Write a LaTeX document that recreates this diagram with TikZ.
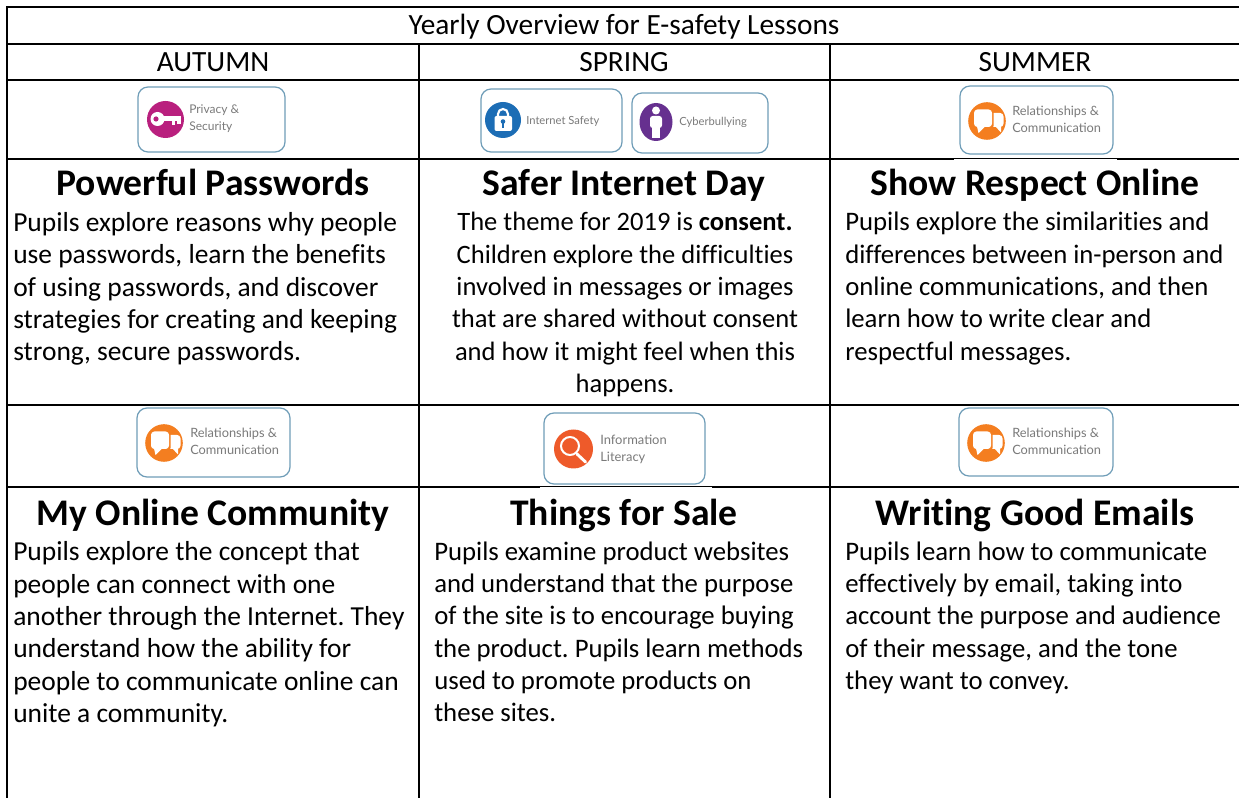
\documentclass[tikz,border=0pt]{standalone}
\usepackage{fontspec}
\setmainfont[Ligatures=NoCommon]{Carlito}
\newfontfamily\logofont{Lato}
\definecolor{logoedge}{HTML}{6F9DB8}
\definecolor{logotext}{HTML}{7A7A7A}
\definecolor{keypink}{HTML}{B9207E}
\definecolor{lockblue}{HTML}{1C6DB5}
\definecolor{personpurple}{HTML}{66308F}
\definecolor{talkorange}{HTML}{F47E20}
\definecolor{searchred}{HTML}{EE5A2A}
\tikzset{
  x=0.75pt,y=-0.75pt,
  gridline/.style={line width=1.6pt,black},
  head/.style={font=\fontsize{22}{26}\selectfont,anchor=base,inner sep=0pt},
  lessontitle/.style={font=\fontsize{28.2}{32}\bfseries\selectfont,anchor=base,inner sep=0pt},
  lessonbody/.style={font=\frenchspacing\fontsize{20.6}{24.25}\selectfont,anchor=north west,inner sep=0pt,align=left},
  lessonnarrow/.style={font=\frenchspacing\fontsize{20.05}{24.25}\selectfont,anchor=north west,inner sep=0pt,align=left},
  lessonmid/.style={font=\frenchspacing\fontsize{19.9}{24.25}\selectfont,anchor=north,inner sep=0pt,align=center},
  logobox/.style={draw=logoedge,line width=0.9pt,rounded corners=7.5pt,fill=white},
  logolabel/.style={font=\logofont\fontsize{9.6}{12.7}\selectfont,text=logotext,anchor=west,inner sep=0pt,align=left},
}
\begin{document}
\begin{tikzpicture}
\useasboundingbox (0,0) rectangle (1239,798);
\fill[white] (0,0) rectangle (1239,798);
% grid
\draw[gridline] (7,798) -- (7,7) -- (1239,7);
\foreach \yy in {44,80,159,405,487} \draw[gridline] (7,\yy) -- (1239,\yy);
\foreach \xx in {419,830} \draw[gridline] (\xx,44) -- (\xx,798);
% headers
\node[head] (title) at (624,35) {Yearly Overview for E-safety Lessons};
\node[head] (autumn) at (213,72) {AUTUMN};
\node[head] (spring) at (624,72) {SPRING};
\node[head] (summer) at (1035,72) {SUMMER};
% white margins of the logos over the rules
\fill[white] (954,158.6) rectangle (1117,159.7);
\fill[white] (540,486.6) rectangle (712,487.7);
% logo: privacy
\draw[logobox] (138,87) rectangle (285,152);
\fill[keypink] (165.5,119.5) circle (18.5);
\fill[white] (157.5,119) circle (7);
\fill[white] (160,116.5) rectangle (181,121.5);
\fill[white] (172,120) rectangle (175,125);
\fill[white] (177,120) rectangle (181,124);
\fill[keypink] (156,119) circle (2.6);
\node[logolabel,font=\logofont\fontsize{9}{12.7}\selectfont] (privacy) at (189,118.5) {Privacy \&\\Security};
% logo: internet safety
\draw[logobox] (481,89) rectangle (622,152);
\fill[lockblue] (503,120) circle (18);
\draw[white,line width=1.6pt] (498,117) -- (498,114) arc[start angle=180,end angle=360,radius=5] -- (508,117);
\fill[white,rounded corners=1.5pt] (494.5,116) rectangle (512,131);
\fill[lockblue] (503,121.5) circle (2.3);
\fill[lockblue] (502,122) rectangle (504,128);
\node[logolabel,font=\logofont\fontsize{8.4}{10}\selectfont] (internet) at (526,121) {Internet Safety};
% logo: cyberbullying
\draw[logobox] (632,93) rectangle (768,153);
\fill[personpurple] (656,122) ellipse (16.5 and 19);
\fill[white] (656,110.5) circle (4);
\fill[white,rounded corners=2pt] (650,116) rectangle (662,128);
\fill[white] (652,126) rectangle (660,138);
\node[logolabel,font=\logofont\fontsize{8.4}{10}\selectfont] (cyber) at (679,122) {Cyberbullying};
% logo: relationships
\foreach \bx/\by/\bw/\bh/\nm/\ttx/\tty in {960/86/153/68/relA/1012/119, 137/408/153/69/relB/190/441, 959/408/154/68/relC/1012/441}{
  \draw[logobox] (\bx,\by) rectangle ({\bx+\bw},{\by+\bh});
  \fill[talkorange] ({\bx+27},{\by+35}) circle (18.8);
  \fill[white,rounded corners=2.5pt] ({\bx+27},{\by+27}) rectangle ({\bx+43.5},{\by+41});
  \fill[white] ({\bx+35},{\by+40}) -- ({\bx+41},{\by+46.5}) -- ({\bx+41},{\by+40}) -- cycle;
  \fill[talkorange,rounded corners=3pt] ({\bx+12.5},{\by+22}) rectangle ({\bx+33.5},{\by+44});
  \fill[white,rounded corners=2.5pt] ({\bx+14},{\by+23.5}) rectangle ({\bx+32},{\by+41});
  \fill[white] ({\bx+17},{\by+40.5}) -- ({\bx+18.5},{\by+47}) -- ({\bx+25},{\by+40.5}) -- cycle;
  \node[logolabel] (\nm) at (\ttx,\tty) {Relationships \&\\Communication};
}
% logo: information literacy
\draw[logobox] (544,413) rectangle (705,484);
\fill[searchred] (573.5,449) circle (19.5);
\draw[white,line width=1.5pt] (570,446) circle (9);
\draw[white,line width=2.2pt,line cap=round] (577,454) -- (585.5,462);
\node[logolabel,font=\logofont\fontsize{9.7}{12.8}\selectfont] (infolit) at (600,449.5) {Information\\Literacy};
% row 1 lessons
\node[lessontitle] (t1) at (213,196) {Powerful Passwords};
\node[lessontitle] (t2) at (624,196) {Safer Internet Day};
\node[lessontitle] (t3) at (1035,196) {Show Respect Online};
\node[lessonbody] (b1) at (13,212) {Pupils explore reasons why people\\use passwords, learn the benefits\\of using passwords, and discover\\strategies for creating and keeping\\strong, secure passwords.};
\node[lessonmid] (b2) at (625,212) {The theme for 2019 is \textbf{consent.}\\Children explore the difficulties\\involved in messages or images\\that are shared without consent\\and how it might feel when this\\happens.};
\node[lessonnarrow] (b3) at (845,212) {Pupils explore the similarities and\\differences between in-person and\\online communications, and then\\learn how to write clear and\\respectful messages.};
% row 2 lessons
\node[lessontitle] (t4) at (213,525) {My Online Community};
\node[lessontitle] (t5) at (624,525) {Things for Sale};
\node[lessontitle] (t6) at (1035,525) {Writing Good Emails};
\node[lessonbody] (b4) at (13,541.5) {Pupils explore the concept that\\people can connect with one\\another through the Internet. They\\understand how the ability for\\people to communicate online can\\unite a community.};
\node[lessonnarrow] (b5) at (434,541.5) {Pupils examine product websites\\and understand that the purpose\\of the site is to encourage buying\\the product. Pupils learn methods\\used to promote products on\\these sites.};
\node[lessonnarrow] (b6) at (845,541.5) {Pupils learn how to communicate\\effectively by email, taking into\\account the purpose and audience\\of their message, and the tone\\they want to convey.};
\end{tikzpicture}
\end{document}
